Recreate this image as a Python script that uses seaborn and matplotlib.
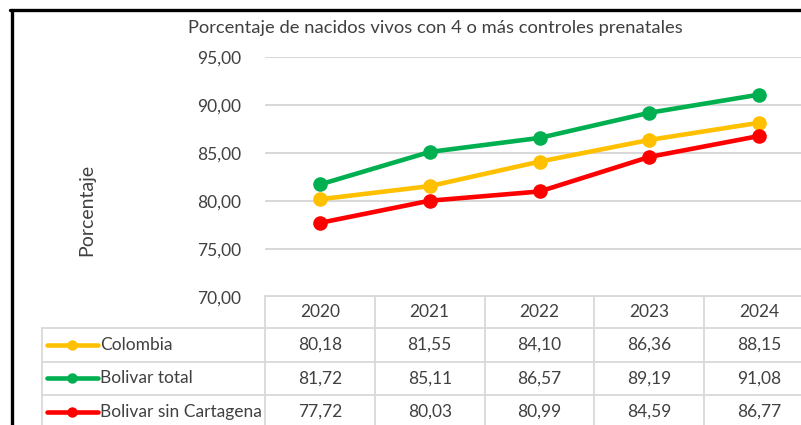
import numpy as np
import pandas as pd
import matplotlib
matplotlib.use("Agg")
import matplotlib.pyplot as plt
import matplotlib.transforms as mtransforms
from matplotlib.lines import Line2D
import seaborn as sns

# -------------------------------
# Data
# -------------------------------
years = ["2020", "2021", "2022", "2023", "2024"]
series = ["Colombia", "Bolivar total", "Bolivar sin Cartagena"]
colombia = [80.18, 81.55, 84.10, 86.36, 88.15]
bolivar_total = [81.72, 85.11, 86.57, 89.19, 91.08]
bolivar_sin_cartagena = [77.72, 80.03, 80.99, 84.59, 86.77]
y_ticks = [70, 75, 80, 85, 90, 95]

title = "Porcentaje de nacidos vivos con 4 o más controles prenatales"
y_label = "Porcentaje"
colors = ["#FFC000", "#00B050", "#FF0000"]

values = [colombia, bolivar_total, bolivar_sin_cartagena]
df = pd.DataFrame({
    "pos": list(range(len(years))) * len(series),
    "valor": colombia + bolivar_total + bolivar_sin_cartagena,
    "serie": [s for s in series for _ in years],
})


def fmt(v):
    return f"{v:.2f}".replace(".", ",")


# -------------------------------
# Figure layout (pixels)
# -------------------------------
W, H = 801, 425
sns.set_theme(style="white")
plt.rcParams["font.family"] = ["Lato", "DejaVu Sans"]
text_color = "#404040"
grid_color = "#D9D9D9"
fs = 12.5

fig = plt.figure(figsize=(W / 100, H / 100), dpi=100)


def fx(px):
    return px / W


def fy(py):
    return 1 - py / H


ax = fig.add_axes([fx(265), fy(297), fx(814 - 265), fy(57) - fy(297)])

sns.lineplot(
    data=df, x="pos", y="valor", hue="serie", hue_order=series,
    palette=colors, marker="o", markersize=10.5, markeredgewidth=0,
    linewidth=3.3, legend=False, ax=ax, zorder=3,
)

ax.set_xlim(-0.5, len(years) - 0.5)
ax.set_ylim(y_ticks[0], y_ticks[-1])
ax.set_yticks(y_ticks)
ax.set_yticklabels([fmt(t) for t in y_ticks], fontsize=fs, color=text_color)
ax.set_xticks([])
ax.tick_params(axis="y", length=0, pad=17)
ax.set_xlabel("")
ax.set_ylabel("")
ax.grid(axis="y", color=grid_color, linewidth=1.5)
for sp in ax.spines.values():
    sp.set_visible(False)
ax.set_facecolor("none")

fig.text(fx(435), fy(28), title, ha="center", va="center",
         fontsize=13.2, color=text_color)
fig.text(fx(87), fy(210), y_label, ha="center", va="center",
         rotation=90, fontsize=14, color=text_color)

# -------------------------------
# Data table below the chart
# -------------------------------
tr = mtransforms.blended_transform_factory(ax.transData, fig.transFigure)
header_top, row_lines = 296, [328, 361.5, 395, 429]
table_left = 42

# horizontal lines
fig.add_artist(Line2D([fx(265), fx(815)], [fy(header_top)] * 2,
                      color=grid_color, lw=1.3))
for yl in row_lines:
    fig.add_artist(Line2D([fx(table_left), fx(815)], [fy(yl)] * 2,
                          color=grid_color, lw=1.3))
# vertical lines
fig.add_artist(Line2D([fx(table_left)] * 2, [fy(row_lines[0]), fy(440)],
                      color=grid_color, lw=1.3))
for i in range(len(years) + 1):
    fig.add_artist(Line2D([i - 0.5] * 2, [fy(header_top), fy(440)],
                          transform=tr, color=grid_color, lw=1.3))

# header
for i, yr in enumerate(years):
    fig.text(i, fy((header_top + row_lines[0]) / 2), yr, transform=tr,
             ha="center", va="center", fontsize=fs, color=text_color)

# rows
for r, (name, vals, col) in enumerate(zip(series, values, colors)):
    yc = fy((row_lines[r] + row_lines[r + 1]) / 2)
    fig.add_artist(Line2D([fx(47), fx(72), fx(98)], [yc] * 3, color=col,
                          lw=3.3, marker="o", markersize=7.5,
                          markeredgewidth=0, markevery=[1]))
    fig.text(fx(100), yc, name, ha="left", va="center",
             fontsize=fs, color=text_color)
    for i, v in enumerate(vals):
        fig.text(i, yc, fmt(v), transform=tr, ha="center", va="center",
                 fontsize=fs, color=text_color)

# outer frame (left and top edges visible)
fig.add_artist(Line2D([fx(11.5)] * 2, [fy(9.5), 0], color="black", lw=2.4))
fig.add_artist(Line2D([fx(10), 1], [fy(9.5)] * 2, color="black", lw=2.4))

fig.savefig("out.png", dpi=100)
